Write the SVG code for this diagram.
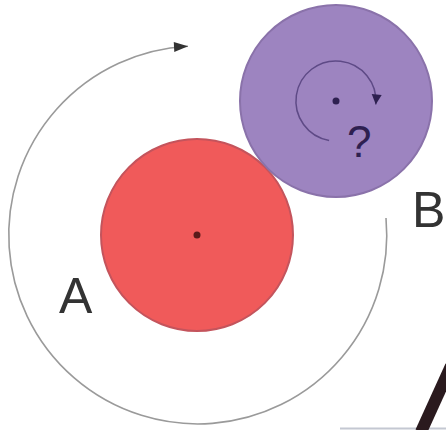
<svg xmlns="http://www.w3.org/2000/svg" width="446" height="430" viewBox="0 0 446 430">
<style>
.lbl{font-family:"Liberation Sans",Arial,sans-serif;fill:#333}
.orbit{fill:none;stroke:#9a9a9a;stroke-width:1.6}
.spin{fill:none;stroke:#5e4a86;stroke-width:1.5}
</style>
<defs>
<marker id="arrGray" markerUnits="userSpaceOnUse" markerWidth="18" markerHeight="14" viewBox="0 0 18 14" refX="16" refY="7" orient="auto">
<path d="M2,2 L16,7 L2,12 Z" fill="#333"/>
</marker>
<marker id="arrPurple" markerUnits="userSpaceOnUse" markerWidth="14" markerHeight="14" viewBox="0 0 14 14" refX="12" refY="7" orient="auto">
<path d="M2,2 L12,7 L2,12 Z" fill="#2e2050"/>
</marker>
</defs>
<rect width="446" height="430" fill="#fff"/>
<g id="connectors">
<path class="orbit" d="M386,218 A189,189 0 1 1 188,46.2" marker-end="url(#arrGray)"/>
</g>
<g id="nodeA">
<circle cx="197" cy="235" r="96" fill="#f05a5a" stroke="#c4545c" stroke-width="2"/>
<circle cx="197" cy="235" r="3.5" fill="#5a1a1a"/>
<text class="lbl" x="59" y="313" font-size="50">A</text>
</g>
<g id="nodeB">
<circle cx="336" cy="101" r="96" fill="#9d84c0" stroke="#8a72aa" stroke-width="2"/>
<circle cx="336" cy="101" r="3.5" fill="#2e2050"/>
<path class="spin" d="M329.1,140.4 A40,40 0 1 1 375.8,104.5" marker-end="url(#arrPurple)"/>
<text x="347" y="157" font-size="44" font-family="Liberation Sans,Arial,sans-serif" fill="#2e2050">?</text>
<text class="lbl" x="412" y="227" font-size="50">B</text>
</g>
<g id="edge">
<line x1="340" y1="428.5" x2="446" y2="428.5" stroke="#c4c8d2" stroke-width="2"/>
<line x1="451" y1="366" x2="421" y2="432" stroke="#2a1a1e" stroke-width="12"/>
</g>
</svg>
